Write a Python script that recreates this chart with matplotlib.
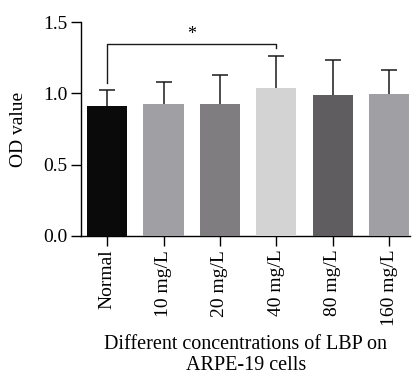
import matplotlib.pyplot as plt
import numpy as np

plt.rcParams['font.family'] = ['Liberation Serif', 'DejaVu Serif']

groups = ['Normal', '10 mg/L', '20 mg/L', '40 mg/L', '80 mg/L', '160 mg/L']
means = [0.911, 0.925, 0.925, 1.037, 0.988, 0.995]
sds = [0.112, 0.154, 0.205, 0.224, 0.243, 0.166]
colors = ['#0a0a0a', '#a09fa4', '#7f7d80', '#d3d3d3', '#5f5d5f', '#a09fa4']

fig = plt.figure(figsize=(4.16, 3.81), dpi=100)
ax = fig.add_axes([0.195, 0.381, 0.791, 0.561])

x = np.arange(len(groups))
ax.bar(x, means, width=0.71, color=colors, zorder=3)
eb = ax.errorbar(x, means, yerr=[np.zeros(len(sds)), sds], fmt='none',
                 ecolor='#1a1a1a', elinewidth=1.1, capsize=6, capthick=1.1, zorder=2)
eb[1][0].set_visible(False)  # hide lower caps

# significance bracket Normal vs 40 mg/L
ax.plot([0, 0, 3, 3], [1.07, 1.343, 1.343, 1.32], color='#1a1a1a', lw=1.0, clip_on=False)
ax.text(1.5, 1.41, '*', ha='center', va='center', fontsize=13)

ax.set_xlim(-0.46, 5.37)
ax.set_ylim(0, 1.5)
ax.set_yticks([0.0, 0.5, 1.0, 1.5])
ax.set_yticklabels(['0.0', '0.5', '1.0', '1.5'], fontsize=14)
ax.set_xticks(x)
ax.set_xticklabels(groups, rotation=90, fontsize=14)
ax.set_ylabel('OD value', fontsize=14)
ax.yaxis.set_label_coords(-0.165, 0.5)
ax.set_xlabel('Different concentrations of LBP on\nARPE-19 cells', fontsize=14.5,
              linespacing=1.15, labelpad=6)
for s in ['top', 'right']:
    ax.spines[s].set_visible(False)
ax.spines['left'].set_linewidth(1.0)
ax.spines['bottom'].set_linewidth(1.0)
ax.tick_params(direction='out', length=7, width=1.0, pad=3)

fig.savefig('out.png', dpi=100)
